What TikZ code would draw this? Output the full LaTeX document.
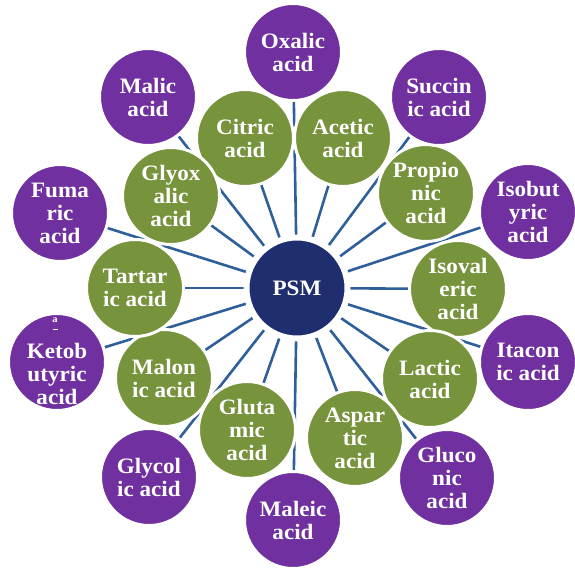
\documentclass[tikz,border=0pt]{standalone}
\usepackage{fontspec}
\setmainfont{Liberation Serif}[FakeStretch=1.05]
\usetikzlibrary{backgrounds}
\definecolor{purp}{HTML}{7030A0}
\definecolor{olive}{HTML}{77933C}
\definecolor{navy}{HTML}{1F2E6E}
\definecolor{spoke}{HTML}{2E5F9B}
\tikzset{
  bubble/.style={circle, minimum size=97pt, inner sep=0pt, draw=white, line width=3pt,
    text=white, align=center, font=\fontsize{22}{23}\selectfont\bfseries},
  pbub/.style={bubble, fill=purp},
  gbub/.style={bubble, fill=olive},
  hub/.style={bubble, fill=navy, line width=6pt, minimum size=101pt},
  spk/.style={draw=spoke, line width=2.6pt},
  txt/.style={text=white, align=center, inner sep=0pt, font=\fontsize{22}{23}\selectfont\bfseries}
}
\begin{document}
\begin{tikzpicture}[x=1pt,y=-1pt]
\useasboundingbox (0,0) rectangle (575,569);
\node[hub] (psm) at (297,288) {PSM};
% green ring
\node[gbub] (citric) at (245,138) {Citric\\acid};
\node[gbub] (acetic) at (343,138) {Acetic\\acid};
\node[gbub] (propionic) at (426,193) {Propio\\nic\\acid};
\node[gbub] (isovaleric) at (458,289) {Isoval\\eric\\acid};
\node[gbub] (lactic) at (430,379) {Lactic\\acid};
\node[gbub] (aspartic) at (355,438) {Aspar\\tic\\acid};
\node[gbub] (glutamic) at (247,430) {Gluta\\mic\\acid};
\node[gbub] (malonic) at (164,378) {Malon\\ic acid};
\node[gbub] (tartaric) at (135,288) {Tartar\\ic acid};
\node[gbub] (glyoxalic) at (171,196) {Glyox\\alic\\acid};
% purple ring
\node[pbub] (oxalic) at (293,52) {Oxalic\\acid};
\node[pbub] (succinic) at (439,97) {Succin\\ic acid};
\node[pbub] (isobutyric) at (528,212) {Isobut\\yric\\acid};
\node[pbub] (itaconic) at (528,362) {Itacon\\ic acid};
\node[pbub] (gluconic) at (447,478) {Gluco\\nic\\acid};
\node[pbub] (maleic) at (293,520) {Maleic\\acid};
\node[pbub] (glycolic) at (149,477) {Glycol\\ic acid};
\node[pbub] (keto) at (57,362) {};
\node[pbub] (fumaric) at (60,213) {Fuma\\ric\\acid};
\node[pbub] (malic) at (148,97) {Malic\\acid};
\node[txt] (ketoa) at (55,320) {\fontsize{10}{10}\selectfont a};
\node[txt] (ketodash) at (55,330) {\fontsize{10}{10}\selectfont \rule[0.3ex]{5pt}{1.2pt}};
\node[txt] (ketotext) at (57,374) {Ketob\\utyric\\acid};
\begin{scope}[on background layer]
\foreach \n in {citric,acetic,propionic,isovaleric,lactic,aspartic,glutamic,malonic,tartaric,glyoxalic,
  oxalic,succinic,isobutyric,itaconic,gluconic,maleic,glycolic,keto,fumaric,malic}
  \draw[spk] (psm.center) -- (\n.center);
\end{scope}
\end{tikzpicture}
\end{document}
